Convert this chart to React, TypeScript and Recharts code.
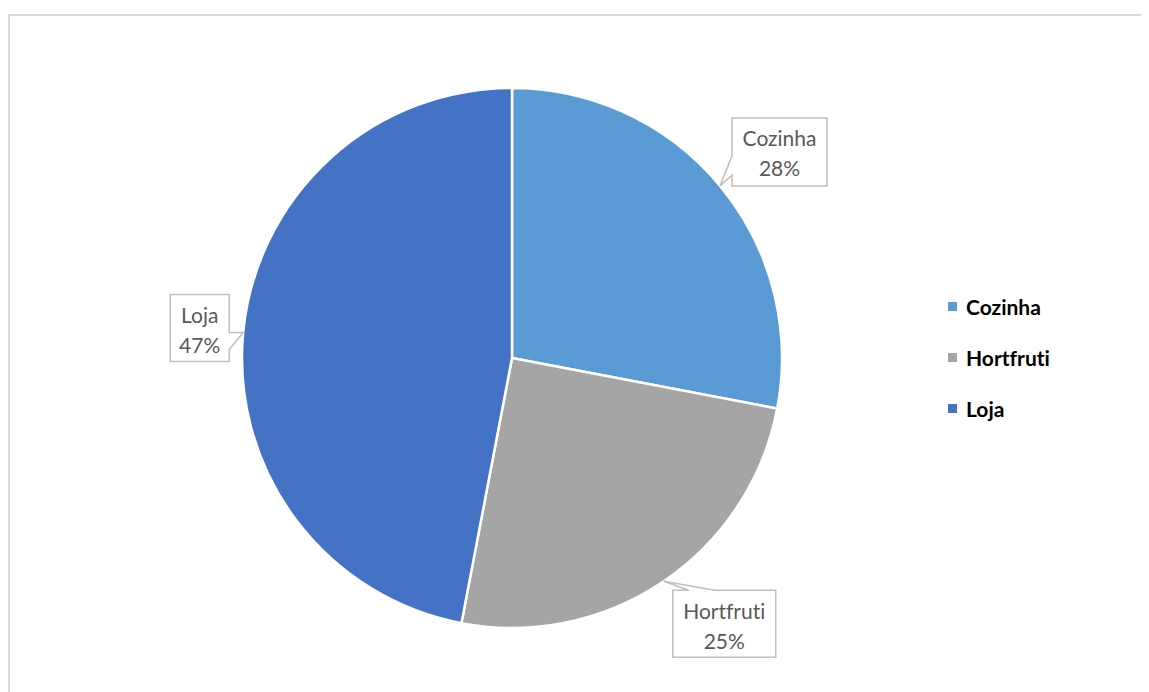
import { Legend, Pie, PieChart } from "recharts";

const categories = ["Cozinha", "Hortfruti", "Loja"];
const shares = [28, 25, 47];
const colors = ["#5B9BD5", "#A5A5A5", "#4472C4"];

const data = categories.map((name, i) => ({ name, value: shares[i], fill: colors[i] }));

// where each callout box sits relative to the point on the arc it points to
const callouts: Record<string, { dx: number; dy: number; w: number; h: number; side: string; b1: number; b2: number }> = {
  Cozinha: { dx: 12, dy: -68, w: 95, h: 68, side: "left", b1: 38, b2: 57 },
  Hortfruti: { dx: 9, dy: 9, w: 103, h: 67, side: "top", b1: 16, b2: 42 },
  Loja: { dx: -73, dy: -38, w: 59, h: 67, side: "right", b1: 38, b2: 55 },
};

const FONT = "Lato, 'Open Sans', sans-serif";
const RAD = Math.PI / 180;
const noLig = { fontVariantLigatures: "none" as const };

function Callout(props: any) {
  const { cx, cy, midAngle, outerRadius, percent, name } = props;
  const tx = cx + outerRadius * Math.cos(-midAngle * RAD);
  const ty = cy + outerRadius * Math.sin(-midAngle * RAD);
  const c = callouts[name];
  const x0 = tx + c.dx;
  const y0 = ty + c.dy;
  const x1 = x0 + c.w;
  const y1 = y0 + c.h;
  let d = "";
  if (c.side === "left") {
    d = `M${x0},${y0} L${x1},${y0} L${x1},${y1} L${x0},${y1} L${x0},${y0 + c.b2} L${tx},${ty} L${x0},${y0 + c.b1} Z`;
  } else if (c.side === "right") {
    d = `M${x0},${y0} L${x1},${y0} L${x1},${y0 + c.b1} L${tx},${ty} L${x1},${y0 + c.b2} L${x1},${y1} L${x0},${y1} Z`;
  } else {
    d = `M${x0},${y0} L${x0 + c.b1},${y0} L${tx},${ty} L${x0 + c.b2},${y0} L${x1},${y0} L${x1},${y1} L${x0},${y1} Z`;
  }
  const mx = (x0 + x1) / 2;
  return (
    <g>
      <path d={d} fill="#ffffff" stroke="#BFBFBF" strokeWidth={1.5} />
      <text x={mx} y={y0 + 20} textAnchor="middle" dominantBaseline="central" fill="#595959" fontSize={21} fontFamily={FONT} style={noLig}>
        {name}
      </text>
      <text x={mx} y={y0 + 50} textAnchor="middle" dominantBaseline="central" fill="#595959" fontSize={21} fontFamily={FONT} style={noLig}>
        {Math.round(percent * 100)}%
      </text>
    </g>
  );
}

function LegendBox() {
  return (
    <div style={{ fontFamily: FONT, ...noLig }}>
      {data.map((d) => (
        <div key={d.name} style={{ display: "flex", alignItems: "center", height: 51 }}>
          <span style={{ width: 9, height: 9, background: d.fill, marginRight: 9 }} />
          <span style={{ fontWeight: 700, fontSize: 21, color: "#000" }}>{d.name}</span>
        </div>
      ))}
    </div>
  );
}

export default function App() {
  return (
    <div
      style={{
        marginTop: 6,
        width: 1160,
        height: 700,
        border: "2px solid #D9D9D9",
        boxSizing: "border-box",
        background: "#fff",
      }}
    >
      <PieChart width={1140} height={680} margin={{ top: 0, right: 0, bottom: 0, left: 0 }}>
        <Pie
          data={data}
          dataKey="value"
          nameKey="name"
          cx={502}
          cy={342}
          outerRadius={270}
          startAngle={90}
          endAngle={-270}
          stroke="#ffffff"
          strokeWidth={2.5}
          label={Callout}
          labelLine={false}
          isAnimationActive={false}
        />
        <Legend
          content={LegendBox}
          layout="vertical"
          wrapperStyle={{ left: 938, top: 265, width: 150 }}
        />
      </PieChart>
    </div>
  );
}
